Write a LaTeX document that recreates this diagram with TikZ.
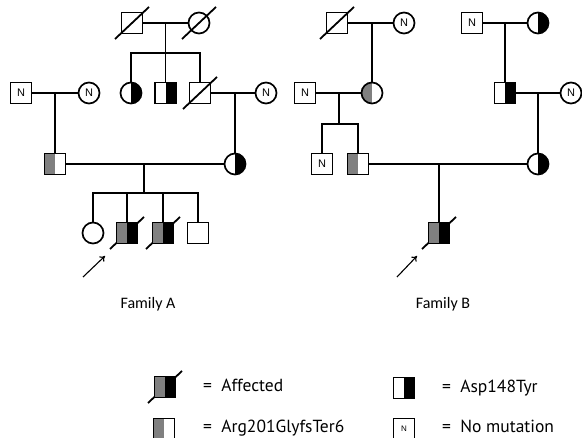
\documentclass[tikz,border=0pt]{standalone}
\usepackage{fontspec}
\setmainfont{Carlito}
\newfontfamily\legfont{PT Sans}
\newfontfamily\nfont{Liberation Sans}
\usetikzlibrary{arrows.meta,backgrounds,calc}
\definecolor{midgray}{RGB}{128,128,128}
\tikzset{
 ped/.style={line width=1.8pt},
 sq/.style={draw, line width=1.7pt, minimum size=21pt, inner sep=0pt, rectangle},
 ci/.style={draw, line width=1.7pt, minimum size=21pt, inner sep=0pt, circle},
 rblack/.style={path picture={\fill[black] (path picture bounding box.north) rectangle (path picture bounding box.south east);}},
 lgray/.style={path picture={\fill[midgray] (path picture bounding box.north west) rectangle (path picture bounding box.south);}},
 affect/.style={path picture={\fill[midgray] (path picture bounding box.north west) rectangle (path picture bounding box.south);\fill[black] (path picture bounding box.north) rectangle (path picture bounding box.south east);}},
 nlab/.style={font=\nfont\fontsize{11}{11}\selectfont},
 nlabsmall/.style={font=\nfont\fontsize{8}{8}\selectfont},
 famlab/.style={font=\fontsize{16}{16}\selectfont},
 leglab/.style={anchor=base west, inner sep=0pt, font=\legfont\fontsize{17.5}{18}\selectfont},
 proband/.style={line width=1.1pt, -{To[length=5pt,width=7pt]}},
}
\newcommand\deadmark[1]{\draw[ped] ($(#1.center)+(-17,16)$) -- ($(#1.center)+(17,-16)$);}
\begin{document}
\begin{tikzpicture}[x=1pt,y=-1pt]
\useasboundingbox (0,0) rectangle (582,438);
% ---------- Family A ----------
\node[sq] (A1) at (132,23) {};
\node[ci] (A2) at (199,23) {};
\node[ci,rblack] (A3) at (131,93) {};
\node[sq,rblack] (A4) at (165.5,93) {};
\node[sq] (A5) at (200,93) {};
\node[ci,nlab] (A6) at (266,93) {N};
\node[sq,nlab] (A7) at (21,93) {N};
\node[ci,nlab] (A8) at (89,93) {N};
\node[sq,lgray] (A9) at (55,164) {};
\node[ci,rblack] (A10) at (235,164) {};
\node[ci] (A11) at (93,233) {};
\node[sq,affect] (A12) at (127,233) {};
\node[sq,affect] (A13) at (163,233) {};
\node[sq] (A14) at (198,233) {};
\coordinate (mA1) at (165.5,23);
\coordinate (sA1) at (165.5,53);
\coordinate (mA2) at (235,93);
\coordinate (mA3) at (55,93);
\coordinate (mA4) at (144,164);
\coordinate (sA2) at (144,193);
\coordinate (arA1) at (83,277);
\coordinate (arA2) at (105,256);
\draw[ped] (A1) -- (A2);
\draw[ped] (mA1) -- (sA1);
\draw[ped] (A3) |- (sA1) -| (A5);
\draw[ped] (A4) -- (A4 |- sA1);
\draw[ped] (A5) -- (A6);
\draw[ped] (mA2) -- (A10);
\draw[ped] (A7) -- (A8);
\draw[ped] (mA3) -- (A9);
\draw[ped] (A9) -- (A10);
\draw[ped] (mA4) -- (sA2);
\draw[ped] (A11) |- (sA2) -| (A14);
\draw[ped] (A12) -- (A12 |- sA2);
\draw[ped] (A13) -- (A13 |- sA2);
\draw[proband] (arA1) -- (arA2);
\node[famlab] (FA) at (148,304) {Family A};
% ---------- Family B ----------
\node[sq] (B1) at (337,23) {};
\node[ci,nlab] (B2) at (404,23) {N};
\node[ci,lgray] (B3) at (372,93) {};
\node[sq,nlab] (B4) at (305,93) {N};
\node[sq,nlab] (B5) at (322,164) {N};
\node[sq,lgray] (B6) at (358,164) {};
\node[sq,nlab] (B7) at (472,23) {N};
\node[ci,rblack] (B8) at (538,23) {};
\node[sq,rblack] (B9) at (505,93) {};
\node[ci,nlab] (B10) at (571,93) {N};
\node[ci,rblack] (B11) at (538,164) {};
\node[sq,affect] (B12) at (439,233) {};
\coordinate (mB1) at (372,23);
\coordinate (mB2) at (339,93);
\coordinate (sB1) at (339,124);
\coordinate (mB4) at (505,23);
\coordinate (mB5) at (538,93);
\coordinate (mB6) at (439,164);
\coordinate (arB1) at (397,277);
\coordinate (arB2) at (417,256);
\draw[ped] (B1) -- (B2);
\draw[ped] (mB1) -- (B3);
\draw[ped] (B4) -- (B3);
\draw[ped] (mB2) -- (sB1);
\draw[ped] (B5) |- (sB1) -| (B6);
\draw[ped] (B7) -- (B8);
\draw[ped] (mB4) -- (B9);
\draw[ped] (B9) -- (B10);
\draw[ped] (mB5) -- (B11);
\draw[ped] (B6) -- (B11);
\draw[ped] (mB6) -- (B12);
\draw[proband] (arB1) -- (arB2);
\node[famlab] (FB) at (443,304) {Family B};
% ---------- Legend ----------
\node[sq,affect] (L1) at (165,387) {};
\node[sq,lgray] (L2) at (164,429) {};
\node[sq,rblack] (L3) at (404,388) {};
\node[sq,nlabsmall] (L4) at (404,429) {N};
\node[leglab] (T1) at (203,392) {=\ \ Affected};
\node[leglab] (T2) at (203,433) {=\ \ Arg201GlyfsTer6};
\node[leglab] (T3) at (442,393) {=\ \ Asp148Tyr};
\node[leglab] (T4) at (442,433) {=\ \ No mutation};
% ---------- deceased marks (behind filled symbols) ----------
\begin{scope}[on background layer]
\deadmark{A1}
\deadmark{A2}
\deadmark{A5}
\deadmark{A12}
\deadmark{A13}
\deadmark{B1}
\deadmark{B12}
\deadmark{L1}
\end{scope}
\end{tikzpicture}
\end{document}
